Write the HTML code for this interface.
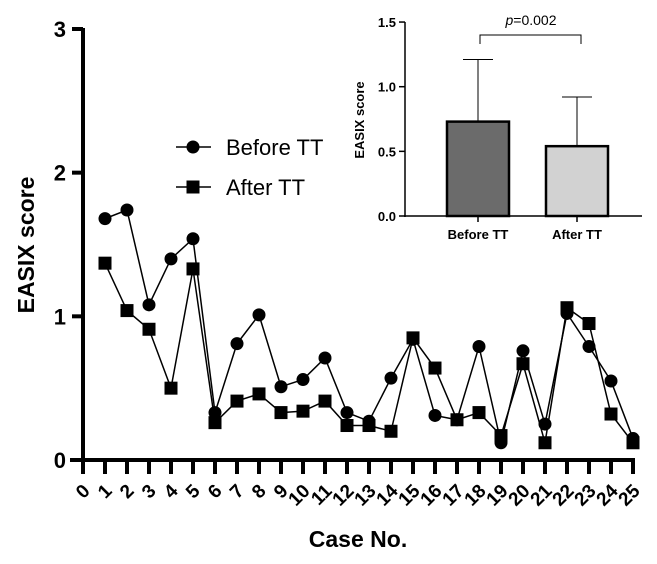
<!DOCTYPE html>
<html><head><meta charset="utf-8"><style>
body{margin:0;background:#fff;}
svg text{font-family:"Liberation Sans",Arial,sans-serif;}
</style></head><body>
<svg width="657" height="559" viewBox="0 0 657 559" id="chart">
</svg>
<script>
const cases = [1,2,3,4,5,6,7,8,9,10,11,12,13,14,15,16,17,18,19,20,21,22,23,24,25];
const beforeVals = [1.68,1.74,1.08,1.40,1.54,0.33,0.81,1.01,0.51,0.56,0.71,0.33,0.27,0.57,0.84,0.31,0.28,0.79,0.12,0.76,0.25,1.02,0.79,0.55,0.15];
const afterVals = [1.37,1.04,0.91,0.50,1.33,0.26,0.41,0.46,0.33,0.34,0.41,0.24,0.24,0.20,0.85,0.64,0.28,0.33,0.17,0.67,0.12,1.06,0.95,0.32,0.12];
const yTicks = [0,1,2,3];
const xTickLabels = [0,1,2,3,4,5,6,7,8,9,10,11,12,13,14,15,16,17,18,19,20,21,22,23,24,25];
const insetCats = ["Before TT","After TT"];
const insetMeans = [0.73,0.54];
const insetErr = [1.21,0.92];
const insetTicks = ["0.0","0.5","1.0","1.5"];

const NS="http://www.w3.org/2000/svg";
const svg=document.getElementById('chart');
function el(tag,attrs,parent){const e=document.createElementNS(NS,tag);for(const k in attrs)e.setAttribute(k,attrs[k]);(parent||svg).appendChild(e);return e;}
const X=c=>83+c*22;
const Y=v=>460-v*143.67;

let a=el('line',{x1:83,y1:Y(3)-1,x2:83,y2:462,stroke:'#000','stroke-width':4});


a=el('line',{x1:70,y1:460,x2:635,y2:460,stroke:'#000','stroke-width':4});


yTicks.forEach(t=>{
  let l=el('line',{x1:72,y1:Y(t),x2:83,y2:Y(t),stroke:'#000','stroke-width':4});
  
  
  let tx=el('text',{x:66,y:Y(t)+8,'text-anchor':'end','font-size':22,'font-weight':'bold'});
  tx.textContent=t;
  
  
});
xTickLabels.forEach(c=>{
  let l=el('line',{x1:X(c),y1:460,x2:X(c),y2:474,stroke:'#000','stroke-width':4});
  
  
  let tx=el('text',{x:0,y:0,'text-anchor':'end','font-size':19,'font-weight':'bold',transform:`translate(${X(c)+8},${492}) rotate(-45)`});
  tx.textContent=c;
  
  
});
let t=el('text',{x:358,y:547,'text-anchor':'middle','font-size':23,'font-weight':'bold'});
t.textContent='Case No.';


t=el('text',{x:0,y:0,'text-anchor':'middle','font-size':23,'font-weight':'bold',transform:'translate(34,245) rotate(-90)'});
t.textContent='EASIX score';



function series(vals,shape,name){
  const pts=cases.map((c,i)=>X(c)+','+Y(vals[i])).join(' ');
  let p=el('polyline',{points:pts,fill:'none',stroke:'#000','stroke-width':1.5});
  
  
  cases.forEach((c,i)=>{
    let m;
    if(shape==='c') m=el('circle',{cx:X(c),cy:Y(vals[i]),r:6.5,fill:'#000'});
    else m=el('rect',{x:X(c)-6.5,y:Y(vals[i])-6.5,width:13,height:13,fill:'#000'});
    
    
  });
}
series(beforeVals,'c','before-tt');
series(afterVals,'s','after-tt');

let g=el('g',{});


el('line',{x1:176,y1:147,x2:211,y2:147,stroke:'#000','stroke-width':1.5},g);
el('circle',{cx:193,cy:147,r:6.5},g);
t=el('text',{x:226,y:155,'font-size':22},g);t.textContent='Before TT';
g=el('g',{});


el('line',{x1:176,y1:187,x2:211,y2:187,stroke:'#000','stroke-width':1.5},g);
el('rect',{x:186.5,y:180.5,width:13,height:13},g);
t=el('text',{x:226,y:195,'font-size':22},g);t.textContent='After TT';

const IY=v=>216-v*129.3;
const IX=[478,577];
const ig=el('g',{});


el('line',{x1:405,y1:IY(1.5),x2:405,y2:217,stroke:'#000','stroke-width':1.5},ig);
el('line',{x1:404,y1:216,x2:642,y2:216,stroke:'#000','stroke-width':1.5},ig);
insetTicks.forEach(s=>{
  const v=parseFloat(s);
  el('line',{x1:399,y1:IY(v),x2:405,y2:IY(v),stroke:'#000','stroke-width':1.5},ig);
  let tx=el('text',{x:396,y:IY(v)+5,'text-anchor':'end','font-size':13,'font-weight':'bold'},ig);
  tx.textContent=s;
  
  
});
t=el('text',{x:0,y:0,'text-anchor':'middle','font-size':13,'font-weight':'bold',transform:'translate(364,120) rotate(-90)'},ig);
t.textContent='EASIX score';


const fills=['#6b6b6b','#d2d2d2'];
insetCats.forEach((c,i)=>{
  el('line',{x1:IX[i],y1:IY(insetErr[i]),x2:IX[i],y2:IY(insetMeans[i]),stroke:'#000','stroke-width':1},ig);
  el('line',{x1:IX[i]-15,y1:IY(insetErr[i]),x2:IX[i]+15,y2:IY(insetErr[i]),stroke:'#000','stroke-width':1},ig);
  let r=el('rect',{x:IX[i]-31,y:IY(insetMeans[i]),width:62,height:216-IY(insetMeans[i]),fill:fills[i],stroke:'#000','stroke-width':2.5},ig);
  
  
  el('line',{x1:IX[i],y1:216,x2:IX[i],y2:222,stroke:'#000','stroke-width':1.5},ig);
  let tx=el('text',{x:IX[i],y:239,'text-anchor':'middle','font-size':13,'font-weight':'bold'},ig);
  tx.textContent=c;
  
  
});
el('polyline',{points:'480,44 480,35 581,35 581,44',fill:'none',stroke:'#000','stroke-width':1},ig);
t=el('text',{x:531,y:25,'text-anchor':'middle','font-size':14},ig);
t.innerHTML='<tspan font-style="italic">p</tspan>=0.002';


</script>
</body></html>
